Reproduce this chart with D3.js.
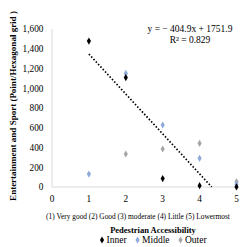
<!DOCTYPE html>
<html>
<head>
<meta charset="utf-8">
<script src="https://cdn.jsdelivr.net/npm/d3@7"></script>
<style>
  body { margin: 0; background: #fff; }
  svg text { font-family: "Liberation Serif", "Times New Roman", serif; fill: #000; }
</style>
</head>
<body>
<div id="chart"></div>
<script>
// data
var xValues = [1, 2, 3, 4, 5];
var innerValues = [1478, 1108, 85, 13, 1];
var middleValues = [131, 1150, 628, 290, 28];
var outerValues = [null, 334, 385, 442, 52];
var yTicks = [0, 200, 400, 600, 800, 1000, 1200, 1400, 1600];
var xTicks = [0, 1, 2, 3, 4, 5];
var seriesNames = ["Inner", "Middle", "Outer"];
var seriesColors = ["#000000", "#8eaadb", "#a5a5a5"];
var trendSlope = -404.9;
var trendIntercept = 1751.9;
var trendR2 = 0.829;

var svgWidth = 244;
var svgHeight = 247;

var svg = d3.select("#chart")
  .append("svg")
  .attr("width", svgWidth)
  .attr("height", svgHeight);

var xScale = d3.scaleLinear().domain([0, 5]).range([52, 236.5]);
var yScale = d3.scaleLinear().domain([0, 1600]).range([187, 29]);

// axis lines
svg.append("line")
  .attr("x1", xScale(0)).attr("x2", xScale(0))
  .attr("y1", yScale(1600)).attr("y2", yScale(0))
  .attr("stroke", "#d9d9d9").attr("stroke-width", 1);
svg.append("line")
  .attr("x1", xScale(0)).attr("x2", xScale(5))
  .attr("y1", yScale(0)).attr("y2", yScale(0))
  .attr("stroke", "#d9d9d9").attr("stroke-width", 1);

// tick labels
var fmt = d3.format(",");
svg.selectAll(".ylab")
  .data(yTicks)
  .enter()
  .append("text")
  .attr("class", "ylab")
  .attr("x", 43.5)
  .attr("y", d => yScale(d))
  .attr("dy", "0.35em")
  .attr("text-anchor", "end")
  .attr("font-size", "9.3px")
  .text(d => fmt(d));

svg.selectAll(".xlab")
  .data(xTicks)
  .enter()
  .append("text")
  .attr("class", "xlab")
  .attr("x", d => xScale(d))
  .attr("y", 199)
  .attr("dy", "0.35em")
  .attr("text-anchor", "middle")
  .attr("font-size", "9.3px")
  .text(d => d);

// trendline (inner series), from x=1 to where it meets zero
var xEnd = -trendIntercept / trendSlope;
svg.append("line")
  .attr("x1", xScale(1)).attr("y1", yScale(trendSlope * 1 + trendIntercept))
  .attr("x2", xScale(xEnd)).attr("y2", yScale(0))
  .attr("stroke", "#000")
  .attr("stroke-width", 1.7)
  .attr("stroke-dasharray", "1.5,1.9");

// points
var diamond = d3.symbol().type(d3.symbolDiamond).size(15);
var allSeries = [outerValues, middleValues, innerValues];
var allColors = [seriesColors[2], seriesColors[1], seriesColors[0]];
allSeries.forEach(function(vals, i) {
  var pts = xValues.map((x, j) => ({x: x, y: vals[j]})).filter(d => d.y != null);
  svg.selectAll(".pt" + i)
    .data(pts)
    .enter()
    .append("path")
    .attr("d", diamond)
    .attr("transform", d => `translate(${xScale(d.x)},${yScale(d.y)})`)
    .attr("fill", allColors[i]);
});

// equation
svg.append("text")
  .attr("x", 190).attr("y", 29).attr("dy", "0.35em")
  .attr("text-anchor", "middle")
  .attr("font-size", "9.5px")
  .text("y = \u2212 " + Math.abs(trendSlope) + "x + " + trendIntercept);
svg.append("text")
  .attr("x", 190).attr("y", 40).attr("dy", "0.35em")
  .attr("text-anchor", "middle")
  .attr("font-size", "9.5px")
  .text("R\u00b2 = " + trendR2);

// y axis title
svg.append("text")
  .attr("transform", "translate(13,106) rotate(-90)")
  .attr("dy", "0.35em")
  .attr("text-anchor", "middle")
  .attr("font-size", "9px")
  .attr("font-weight", "bold")
  .text("Entertainment and Sport (Point/Hexagonal grid )");

// x axis notes and title
svg.append("text")
  .attr("x", 138).attr("y", 216).attr("dy", "0.35em")
  .attr("text-anchor", "middle")
  .attr("font-size", "7.4px")
  .text("(1) Very good (2) Good (3) moderate (4) Little (5) Lowermost");

svg.append("text")
  .attr("x", 153).attr("y", 230).attr("dy", "0.35em")
  .attr("text-anchor", "middle")
  .attr("font-size", "8.5px")
  .attr("font-weight", "bold")
  .text("Pedestrian Accessibility");

// legend, laid out one after another
var legX = 102;
seriesNames.forEach(function(name, i) {
  var g = svg.append("g").attr("transform", `translate(${legX},240)`);
  g.append("path").attr("d", diamond).attr("fill", seriesColors[i]);
  var t = g.append("text")
    .attr("x", 4.5).attr("dy", "0.35em")
    .attr("font-size", "9.5px")
    .text(name);
  legX += 4.5 + t.node().getComputedTextLength() + 11;
});
</script>
</body>
</html>
